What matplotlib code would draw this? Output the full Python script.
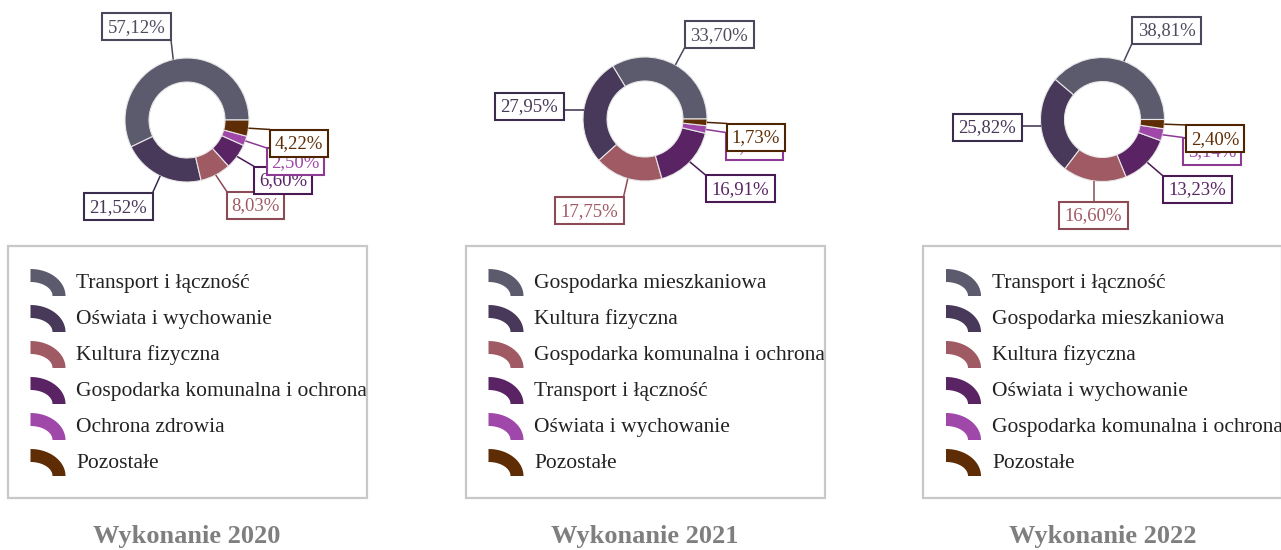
import numpy as np
import matplotlib
matplotlib.use('Agg')
import matplotlib.pyplot as plt
from matplotlib.patches import Rectangle, Polygon

matplotlib.rcParams['font.family'] = ['Liberation Serif', 'DejaVu Serif']

W, H = 1281, 550

# udziały wydatków (%) - kolejność jak w legendzie
years = ['Wykonanie 2020', 'Wykonanie 2021', 'Wykonanie 2022']

cat_2020 = ['Transport i łączność', 'Oświata i wychowanie', 'Kultura fizyczna',
            'Gospodarka komunalna i ochrona środowiska', 'Ochrona zdrowia', 'Pozostałe']
val_2020 = [57.12, 21.52, 8.03, 6.60, 2.50, 4.22]

cat_2021 = ['Gospodarka mieszkaniowa', 'Kultura fizyczna',
            'Gospodarka komunalna i ochrona środowiska', 'Transport i łączność',
            'Oświata i wychowanie', 'Pozostałe']
val_2021 = [33.70, 27.95, 17.75, 16.91, 1.96, 1.73]

cat_2022 = ['Transport i łączność', 'Gospodarka mieszkaniowa', 'Kultura fizyczna',
            'Oświata i wychowanie', 'Gospodarka komunalna i ochrona środowiska', 'Pozostałe']
val_2022 = [38.81, 25.82, 16.60, 13.23, 3.14, 2.40]

colors = ['#5c5b6e', '#48385a', '#a05a64', '#5a2464', '#a048aa', '#5f2d05']
dark = ['#4a495c', '#3a2c4c', '#8c4a56', '#4a1a54', '#8c3a96', '#4f2400']

# środki pierścieni (px) i przesunięcia etykiet względem środka
centers = [(187, 120), (645, 119), (1102.5, 119.5)]
label_off = [
    [(-50.5, -93.5), (-69, 86.5), (68.5, 85), (96, 60), (108.5, 41.5), (112, 23)],
    [(74, -84.5), (-116, -13), (-56, 91.5), (95, 69.5), (109.5, 27), (111, 18)],
    [(64, -89.5), (-115.5, 7.5), (-9, 95.5), (94.5, 69.5), (109.5, 31.5), (112.5, 19)],
]

R_OUT, R_IN = 62, 38

fig = plt.figure(figsize=(W / 100, H / 100), dpi=100)
ax = fig.add_axes([0, 0, 1, 1])


def fmt(v):
    return f'{v:.2f}'.replace('.', ',') + '%'


def legend_icon(x0, y0, color):
    # ćwiartka pierścienia, środek w lewym dolnym rogu
    t = np.linspace(0, np.pi / 2, 40)
    outer = np.c_[x0 + 35 * np.cos(t), y0 - 27 * np.sin(t)]
    inner = np.c_[x0 + 22 * np.cos(t[::-1]), y0 - 14 * np.sin(t[::-1])]
    ax.add_patch(Polygon(np.vstack([outer, inner]), closed=True, fc=color,
                         ec='none', zorder=3))


for k, (title, cats, vals) in enumerate(zip(years, [cat_2020, cat_2021, cat_2022],
                                             [val_2020, val_2021, val_2022])):
    cx, cy = centers[k]
    ax.pie(vals, colors=colors, center=(cx, cy), radius=R_OUT, startangle=0,
           counterclock=False, frame=True,
           wedgeprops=dict(width=R_OUT - R_IN, edgecolor='#e6e6e6', linewidth=0.8))

    # etykiety z linią prowadzącą
    total = sum(vals)
    start = 0.0
    for i, v in enumerate(vals):
        mid = np.deg2rad(start + v / total * 360 / 2)
        start += v / total * 360
        ex = cx + R_OUT * np.cos(mid)
        ey = cy - R_OUT * np.sin(mid)
        s = fmt(v)
        bw, bh = 11.5 * len(s), 27
        lx, ly = cx + label_off[k][i][0], cy + label_off[k][i][1]
        px = min(max(ex, lx - bw / 2), lx + bw / 2)
        py = min(max(ey, ly - bh / 2), ly + bh / 2)
        ax.plot([ex, px], [ey, py], color=dark[i], lw=1.1, zorder=3 + 2 * i,
                solid_capstyle='butt')
        ax.add_patch(Rectangle((lx - bw / 2, ly - bh / 2), bw, bh, fc='white',
                               ec=dark[i], lw=1.5, zorder=4 + 2 * i))
        ax.text(lx, ly + 1, s, color=colors[i] if i != 0 else '#4e4d60', fontsize=13.5,
                ha='center', va='center', zorder=4 + 2 * i)

    # legenda w ramce
    bx, by = cx - 179.5, 246
    frame = Rectangle((bx, by), 359, 252, fc='white', ec='#c8c8c8', lw=1.6, zorder=2)
    ax.add_patch(frame)
    clip = Rectangle((bx, by), 358, 252, transform=ax.transData)
    for i, name in enumerate(cats):
        y_bot = 296 + 36 * i
        legend_icon(bx + 23, y_bot, colors[i])
        t = ax.text(bx + 69, y_bot - 8, name, fontsize=15.5, color='#222222',
                    ha='left', va='baseline', zorder=3, clip_on=True)
        t.set_clip_path(clip)

    ax.text(cx, 543, title, fontsize=19, fontweight='bold', color='#7f7f7f',
            ha='center', va='baseline')

ax.set_xlim(0, W)
ax.set_ylim(H, 0)
ax.set_aspect('auto')
ax.axis('off')

fig.savefig('out.png', dpi=100, facecolor='white')
